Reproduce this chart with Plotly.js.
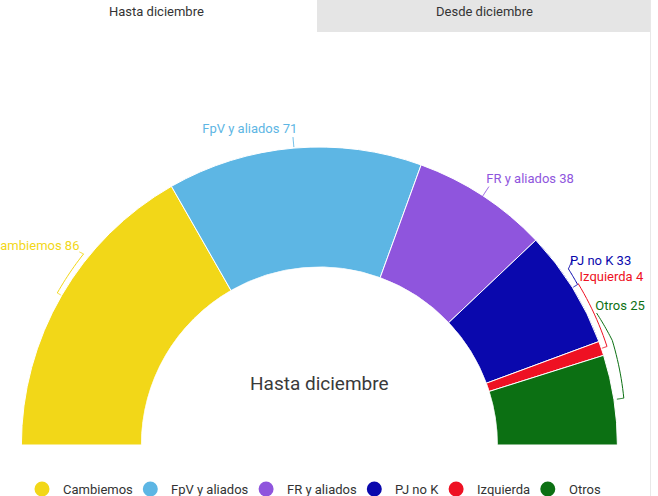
<!DOCTYPE html>
<html>
<head>
<meta charset="utf-8">
<script src="https://cdn.plot.ly/plotly-3.0.1.min.js"></script>
<style>
html,body{margin:0;padding:0;background:#fff;overflow:hidden;}
#chart{width:658px;height:496px;}
</style>
</head>
<body>
<div id="chart"></div>
<script>
// ---- data ----
const parties = ['Cambiemos', 'FpV y aliados', 'FR y aliados', 'PJ no K', 'Izquierda', 'Otros'];
const seats = [86, 71, 38, 33, 4, 25];
const colors = ['#f2d718', '#5db6e4', '#8f55dd', '#0a08ad', '#ee1123', '#0c7013'];
const tabLabels = ['Hasta diciembre', 'Desde diciembre'];
const centerTitle = 'Hasta diciembre';

// ---- geometry (pixels) ----
const W = 658, H = 496;
const cx = 319.4, cy = 445;
const Ro = 298, Ri = 178, Rd = 319;
const rmax = (Rd - Ri) / (Ro - Ri);
const rOf = p => (p - Ri) / (Ro - Ri);
const px = x => x / W, py = y => 1 - y / H;

const total = seats.reduce((a, b) => a + b, 0);
const widths = seats.map(s => s / total * 180);
const mids = [];
let acc = 0;
widths.forEach(w => { mids.push(acc + w / 2); acc += w; });

// leader lines: [thetaOffsetFromMid, pixelOffsetFromOuter]
const leaders = [
  {pts: [[0, 1], [0, 5], [8.9, 5.5], [8.7, 10]], lab: [9.4, 13], pos: 'middle left'},
  {pts: [[0, 1], [0, 11]], lab: [0.9, 18], pos: 'middle left'},
  {pts: [[0, 0], [0, 11]], lab: [-1.1, 15.5], pos: 'middle right'},
  {pts: [[0, 1], [0, 6], [-3.4, 7], [-4.4, 16]], lab: [-4.3, 12.5], pos: 'middle right'},
  {pts: [[0, 1], [0, 6], [-13.1, 7]], lab: [-13.9, 11.5], pos: 'middle right'},
  {pts: [[0, 3], [0, 10], [-10.9, 13], [-16.7, 9]], lab: [-17.8, 10.5], pos: 'middle right'}
];

const traces = [];
traces.push({
  type: 'barpolar',
  r: seats.map(() => 1),
  theta: mids,
  width: widths,
  marker: {color: colors, line: {color: '#ffffff', width: 1}},
  showlegend: false,
  hoverinfo: 'skip'
});

leaders.forEach((L, i) => {
  const th = [], rr = [];
  for (let k = 0; k < L.pts.length - 1; k++) {
    const a = L.pts[k], b = L.pts[k + 1];
    const n = 12;
    for (let j = 0; j <= n; j++) {
      const t = j / n;
      th.push(mids[i] + a[0] + (b[0] - a[0]) * t);
      rr.push(rOf(Ro + a[1] + (b[1] - a[1]) * t));
    }
  }
  traces.push({
    type: 'scatterpolar', mode: 'lines', r: rr, theta: th,
    line: {color: colors[i], width: 1}, showlegend: false, hoverinfo: 'skip'
  });
  traces.push({
    type: 'scatterpolar', mode: 'text',
    r: [rOf(Ro + L.lab[1])], theta: [mids[i] + L.lab[0]],
    text: [parties[i] + ' ' + seats[i]], textposition: L.pos,
    textfont: {family: 'Roboto', size: 13, color: colors[i]},
    cliponaxis: false, showlegend: false, hoverinfo: 'skip'
  });
});

// ---- custom legend (circle + text), laid out from measured text widths ----
const ctx = document.createElement('canvas').getContext('2d');
ctx.font = '13px Roboto';
const legY = 489, symToText = 19, textToSym = 19.5, dotR = 7.5;
const tw = parties.map(p => ctx.measureText(p).width);
let xCur = 42;
const legShapes = [], legAnn = [];
parties.forEach((p, i) => {
  legShapes.push({type: 'circle', xref: 'paper', yref: 'paper',
    x0: px(xCur - dotR), x1: px(xCur + dotR), y0: py(legY + dotR), y1: py(legY - dotR),
    fillcolor: colors[i], line: {width: 0}});
  legAnn.push({xref: 'paper', yref: 'paper', x: px(xCur + symToText), y: py(legY), text: p,
    showarrow: false, xanchor: 'left', yanchor: 'middle',
    font: {family: 'Roboto', size: 13, color: '#333333'}});
  xCur += symToText + tw[i] + textToSym;
});

const layout = {
  width: W, height: H,
  margin: {l: 0, r: 0, t: 0, b: 0, autoexpand: false},
  paper_bgcolor: '#ffffff',
  font: {family: 'Roboto', color: '#333333'},
  polar: {
    domain: {x: [px(cx - Rd), px(cx + Rd)], y: [py(cy), py(cy - Rd)]},
    sector: [0, 180],
    hole: Ri / Rd,
    bgcolor: 'rgba(0,0,0,0)',
    radialaxis: {visible: false, range: [0, rmax]},
    angularaxis: {visible: false, rotation: 180, direction: 'clockwise', thetaunit: 'degrees'}
  },
  showlegend: false,
  shapes: [
    {type: 'rect', xref: 'paper', yref: 'paper', x0: px(317), x1: px(650), y0: py(32), y1: 1,
     fillcolor: '#e5e5e5', line: {width: 0}, layer: 'below'},
    {type: 'line', xref: 'paper', yref: 'paper', x0: px(650.5), x1: px(650.5), y0: 0, y1: 1,
     line: {color: '#e8e8e8', width: 1}}
  ].concat(legShapes),
  annotations: [
    {xref: 'paper', yref: 'paper', x: px(156), y: py(11), text: tabLabels[0], showarrow: false,
     xanchor: 'center', yanchor: 'middle', font: {family: 'Roboto', size: 13, color: '#333333'}},
    {xref: 'paper', yref: 'paper', x: px(484), y: py(11), text: tabLabels[1], showarrow: false,
     xanchor: 'center', yanchor: 'middle', font: {family: 'Roboto', size: 13, color: '#333333'}},
    {xref: 'paper', yref: 'paper', x: px(cx), y: py(383), text: centerTitle, showarrow: false,
     xanchor: 'center', yanchor: 'middle', font: {family: 'Roboto', size: 19, color: '#3a3a3a'}}
  ].concat(legAnn)
};

Plotly.newPlot('chart', traces, layout, {displayModeBar: false, responsive: false});
</script>
</body>
</html>
